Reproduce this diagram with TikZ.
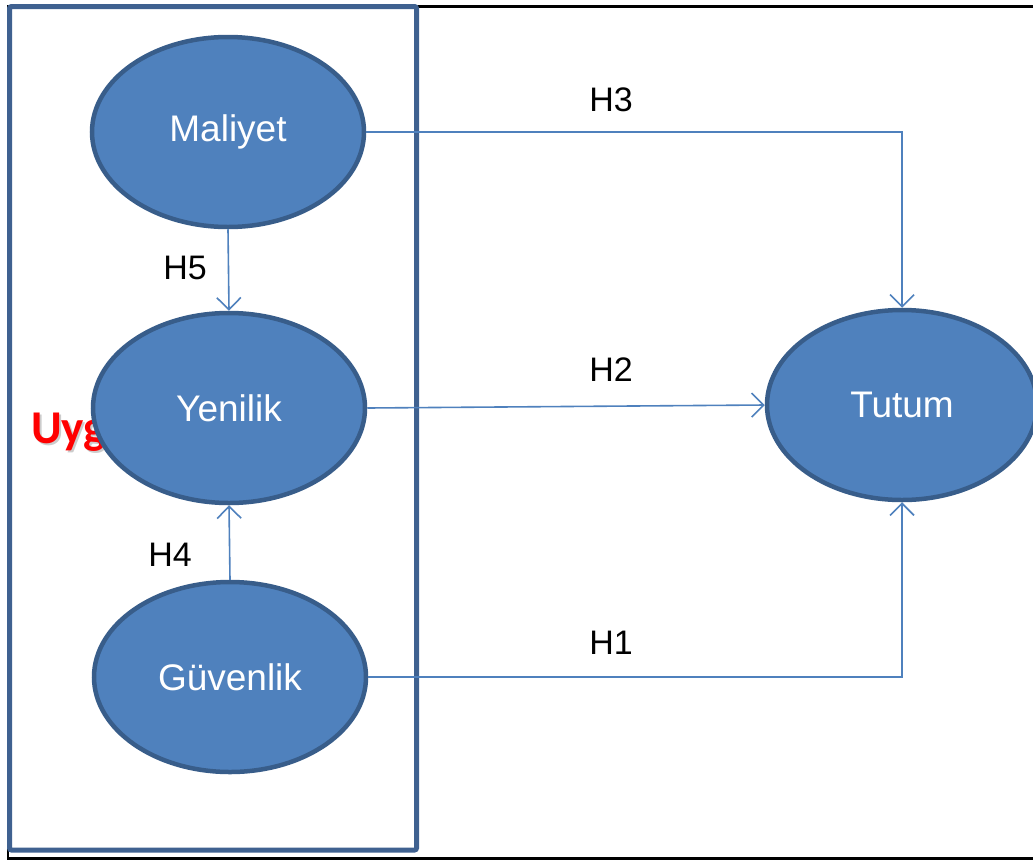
\documentclass[tikz,border=0pt]{standalone}
\usepackage{fontspec}
\setmainfont{Liberation Sans}
\newfontfamily\calibri{Carlito}
\usetikzlibrary{arrows.meta, positioning, shapes.geometric}
\definecolor{cfill}{HTML}{4F81BD}
\definecolor{cedge}{HTML}{385D8A}
\definecolor{cbox}{HTML}{3F6190}
\tikzset{
  every picture/.style={x=1pt, y=-1pt},
  construct/.style={ellipse, draw=cedge, fill=cfill, line width=4.5pt, inner sep=0pt, minimum width=272pt, minimum height=190pt, text=white, font=\fontsize{37}{43}\selectfont},
  link/.style={-{Straight Barb[length=12pt, width=24pt]}, draw=cfill, line width=1.6pt},
  hyp/.style={font=\fontsize{34}{40}\selectfont},
  redtext/.style={anchor=base west, inner sep=0pt, font=\calibri\bfseries\fontsize{47}{52}\selectfont},
}
\begin{document}
\begin{tikzpicture}
  \useasboundingbox (0,0) rectangle (1033,860);
  \clip (0,0) rectangle (1033,860);
  % frames
  \draw[line width=2.2pt] (8,6.5) rectangle (1050,858.5);
  \draw[cbox, fill=white, line width=5pt, rounded corners=2pt] (9.5,6.5) rectangle (416.5,850);
  \node[redtext, text=black!20] at (33,445) {Uyg};
  \node[redtext, text=red] (uyg) at (31,443) {Uyg};
  % constructs
  \node[construct] (maliyet) at (228,132) {Maliyet};
  \node[construct] (yenilik) at (229,408) {Yenilik};
  \node[construct] (guvenlik) at (230,677) {Güvenlik};
  \node[construct, minimum width=270pt] (tutum) at (902,405) {Tutum};
  % hypotheses
  \draw[link] (maliyet.east) -| (tutum.north);
  \draw[link] (yenilik.east) -- (tutum.west);
  \draw[link] (guvenlik.east) -| (tutum.south);
  \draw[link] (maliyet.south) -- (yenilik.north);
  \draw[link] (guvenlik.north) -- (yenilik.south);
  \node[hyp] (h3) at (611,100) {H3};
  \node[hyp] (h2) at (611,370) {H2};
  \node[hyp] (h1) at (611,643) {H1};
  \node[hyp] (h5) at (185,268) {H5};
  \node[hyp] (h4) at (170,555) {H4};
\end{tikzpicture}
\end{document}
